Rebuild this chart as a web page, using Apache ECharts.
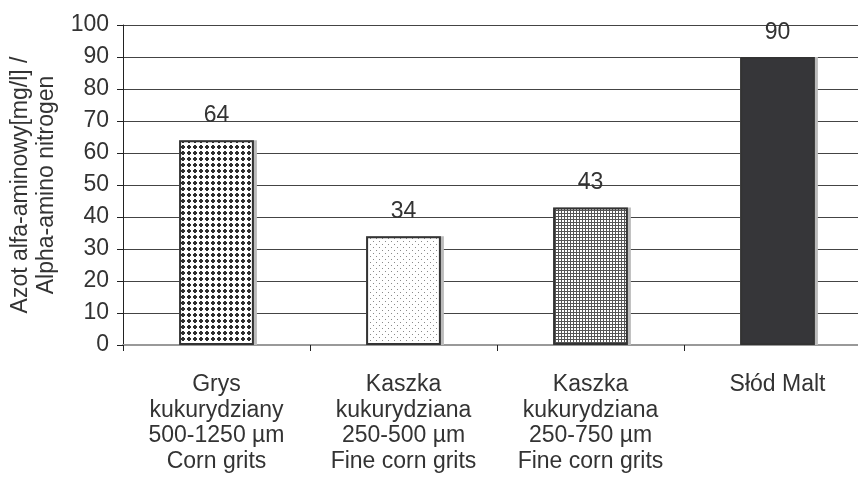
<!DOCTYPE html>
<html>
<head>
<meta charset="utf-8">
<script src="https://cdn.jsdelivr.net/npm/echarts@6/dist/echarts.min.js"></script>
<style>
  html, body { margin: 0; padding: 0; background: #fff; }
  #chart { width: 858px; height: 491px; }
</style>
</head>
<body>
<div id="chart"></div>
<script>
// categories and values
const categories = [
  'Grys\nkukurydziany\n500-1250 µm\nCorn grits',
  'Kaszka\nkukurydziana\n250-500 µm\nFine corn grits',
  'Kaszka\nkukurydziana\n250-750 µm\nFine corn grits',
  'Słód Malt'
]
const values = [64, 34, 43, 90]
const yTicks = [0, 10, 20, 30, 40, 50, 60, 70, 80, 90, 100]
const yName = 'Azot alfa-aminowy[mg/l] /\nAlpha-amino nitrogen'

// small canvas tiles for the bar fills
function makeTile (w, h, draw) {
  const c = document.createElement('canvas')
  c.width = w
  c.height = h
  const ctx = c.getContext('2d')
  ctx.fillStyle = '#fff'
  ctx.fillRect(0, 0, w, h)
  draw(ctx)
  return c
}
// dark dots, dense
const dotsTile = makeTile(6, 6, ctx => {
  ctx.fillStyle = '#2e2e2e'
  ctx.fillRect(1, 2, 4, 2)
  ctx.fillRect(2, 1, 2, 4)
})
// sparse grey dots
const fineTile = makeTile(6, 6, ctx => {
  ctx.fillStyle = '#8a8a8a'
  ctx.fillRect(1, 1, 1, 1)
  ctx.fillRect(4, 4, 1, 1)
})
// fine grid
const gridTile = makeTile(3, 3, ctx => {
  ctx.fillStyle = '#555'
  ctx.fillRect(0, 0, 3, 1)
  ctx.fillRect(0, 0, 1, 3)
})
const fills = [
  { image: dotsTile, repeat: 'repeat' },
  { image: fineTile, repeat: 'repeat' },
  { image: gridTile, repeat: 'repeat' },
  '#363639'
]

const chart = echarts.init(document.getElementById('chart'))
const font = 'Liberation Sans, Arial, sans-serif'

chart.setOption({
  animation: false,
  // plot runs a little past the right edge, like the original
  grid: {
    left: 123,
    top: 25,
    height: 320,
    width: 748,
    containLabel: false,
    outerBoundsMode: 'none'
  },
  xAxis: {
    type: 'category',
    data: categories,
    axisLine: { lineStyle: { color: '#999', width: 2 } },
    axisTick: { show: true, length: 6, lineStyle: { color: '#222' } },
    axisLabel: {
      interval: 0,
      margin: 27,
      color: '#333',
      fontSize: 23,
      lineHeight: 25.5,
      fontFamily: font
    }
  },
  yAxis: {
    type: 'value',
    min: yTicks[0],
    max: yTicks[yTicks.length - 1],
    interval: 10,
    name: yName,
    nameLocation: 'middle',
    nameGap: 56,
    nameTextStyle: { color: '#333', fontSize: 23, lineHeight: 26, fontFamily: font },
    axisLine: { show: true, lineStyle: { color: '#222' } },
    axisTick: { show: true, length: 6, lineStyle: { color: '#222' } },
    axisLabel: { color: '#333', fontSize: 23, margin: 14, fontFamily: font },
    splitLine: { show: true, lineStyle: { color: '#444', width: 1 } }
  },
  series: [
    {
      // grey drop shadow behind each bar
      type: 'bar',
      barWidth: '40%',
      barGap: '-100%',
      silent: true,
      data: values,
      itemStyle: {
        color: '#bbb',
        shadowColor: '#bbb',
        shadowOffsetX: 3,
        shadowBlur: 0
      }
    },
    {
      type: 'bar',
      barWidth: '40%',
      data: values.map((v, i) => ({
        value: v,
        itemStyle: { color: fills[i] }
      })),
      itemStyle: {
        borderColor: '#333',
        borderWidth: 2
      },
      label: {
        show: true,
        position: 'top',
        distance: 13,
        color: '#333',
        fontSize: 23,
        fontFamily: font
      }
    }
  ]
})
</script>
</body>
</html>
